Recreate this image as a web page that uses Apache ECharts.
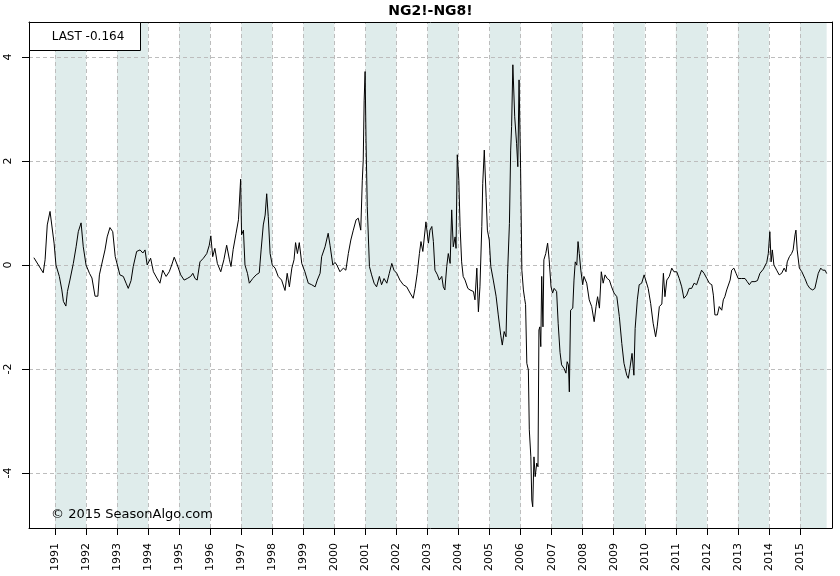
<!DOCTYPE html>
<html><head><meta charset="utf-8">
<script src="https://cdn.jsdelivr.net/npm/echarts@6/dist/echarts.min.js"></script>
<style>html,body{margin:0;padding:0;background:#fff}#c{width:840px;height:576px}</style>
</head><body><div id="c"></div>
<script>
const chartTitle = 'NG2!-NG8!';
const copyright = '\u00a9 2015 SeasonAlgo.com';
const yearTicks = [1991,1992,1993,1994,1995,1996,1997,1998,1999,2000,2001,2002,2003,2004,2005,2006,2007,2008,2009,2010,2011,2012,2013,2014,2015];
const valueTicks = [-4,-2,0,2,4];
const shadedYears = [1991,1993,1995,1997,1999,2001,2003,2005,2007,2009,2011,2013,2015];

const dates = [
1990.32,1990.62,1990.68,1990.75,1990.84,1990.89,1990.97,1991.03,1991.14,1991.22,
1991.27,1991.35,1991.40,1991.48,1991.59,1991.68,1991.75,1991.84,1991.91,1992.00,
1992.11,1992.19,1992.29,1992.38,1992.43,1992.50,1992.61,1992.68,1992.77,1992.86,
1992.94,1993.01,1993.09,1993.20,1993.29,1993.36,1993.45,1993.52,1993.63,1993.74,
1993.83,1993.90,1993.97,1994.08,1994.17,1994.28,1994.38,1994.47,1994.58,1994.68,
1994.76,1994.84,1994.94,1995.05,1995.16,1995.26,1995.37,1995.44,1995.51,1995.58,
1995.67,1995.78,1995.89,1995.97,1996.02,1996.08,1996.15,1996.23,1996.34,1996.44,
1996.53,1996.62,1996.67,1996.74,1996.83,1996.91,1996.98,1997.01,1997.07,1997.12,
1997.20,1997.26,1997.37,1997.48,1997.58,1997.64,1997.71,1997.77,1997.82,1997.87,
1997.93,1998.00,1998.09,1998.19,1998.30,1998.41,1998.48,1998.55,1998.63,1998.70,
1998.75,1998.81,1998.87,1998.95,1999.05,1999.16,1999.27,1999.38,1999.45,1999.54,
1999.59,1999.70,1999.80,1999.86,1999.95,2000.02,2000.08,2000.18,2000.29,2000.37,
2000.45,2000.53,2000.61,2000.70,2000.77,2000.85,2000.90,2000.93,2000.96,2000.99,
2001.02,2001.06,2001.13,2001.20,2001.28,2001.36,2001.45,2001.52,2001.60,2001.69,
2001.77,2001.85,2001.92,2002.01,2002.11,2002.22,2002.33,2002.44,2002.54,2002.60,
2002.67,2002.74,2002.79,2002.85,2002.95,2003.03,2003.08,2003.14,2003.19,2003.24,
2003.32,2003.38,2003.46,2003.51,2003.56,2003.62,2003.67,2003.73,2003.78,2003.83,
2003.89,2003.92,2003.96,2004.01,2004.05,2004.10,2004.15,2004.21,2004.30,2004.37,
2004.48,2004.53,2004.59,2004.64,2004.69,2004.75,2004.78,2004.83,2004.89,2004.93,
2004.99,2005.04,2005.12,2005.21,2005.28,2005.36,2005.41,2005.47,2005.53,2005.58,
2005.64,2005.68,2005.71,2005.75,2005.81,2005.87,2005.91,2005.95,2006.00,2006.04,
2006.09,2006.13,2006.16,2006.20,2006.25,2006.28,2006.33,2006.36,2006.39,2006.43,
2006.47,2006.52,2006.56,2006.59,2006.62,2006.65,2006.68,2006.72,2006.75,2006.81,
2006.87,2006.92,2006.98,2007.03,2007.08,2007.16,2007.21,2007.27,2007.32,2007.40,
2007.46,2007.50,2007.54,2007.57,2007.61,2007.68,2007.72,2007.76,2007.81,2007.85,
2007.89,2007.94,2008.00,2008.04,2008.13,2008.21,2008.29,2008.37,2008.43,2008.48,
2008.54,2008.60,2008.66,2008.72,2008.79,2008.86,2008.93,2009.01,2009.10,2009.18,
2009.26,2009.33,2009.42,2009.47,2009.52,2009.59,2009.65,2009.69,2009.76,2009.82,
2009.90,2009.98,2010.04,2010.11,2010.19,2010.27,2010.35,2010.40,2010.47,2010.55,
2010.60,2010.65,2010.71,2010.79,2010.87,2010.94,2011.03,2011.11,2011.19,2011.26,
2011.35,2011.43,2011.51,2011.59,2011.67,2011.76,2011.83,2011.91,2012.00,2012.08,
2012.16,2012.21,2012.26,2012.34,2012.40,2012.48,2012.53,2012.58,2012.64,2012.69,
2012.75,2012.80,2012.87,2012.94,2013.01,2013.12,2013.23,2013.30,2013.37,2013.44,
2013.55,2013.63,2013.71,2013.82,2013.93,2013.98,2014.03,2014.07,2014.11,2014.16,
2014.25,2014.33,2014.41,2014.49,2014.55,2014.59,2014.66,2014.73,2014.78,2014.84,
2014.87,2014.91,2014.98,2015.06,2015.11,2015.16,2015.24,2015.32,2015.41,2015.48,
2015.54,2015.59,2015.67,2015.73,2015.81,2015.86
];
const spread = [
0.14,-0.15,0.10,0.77,1.03,1.00,0.42,0.00,-0.22,-0.48,
-0.70,-0.79,-0.51,-0.29,0.03,0.35,0.64,0.81,0.35,0.00,
-0.16,-0.25,-0.60,-0.60,-0.19,0.00,0.29,0.54,0.72,0.64,
0.16,0.00,-0.19,-0.22,-0.35,-0.45,-0.30,-0.03,0.26,0.29,
0.23,0.29,0.00,0.13,-0.13,-0.25,-0.35,-0.10,-0.22,-0.13,
0.00,0.15,0.00,-0.19,-0.29,-0.26,-0.22,-0.16,-0.26,-0.29,
0.06,0.13,0.22,0.38,0.56,0.16,0.32,0.03,-0.13,0.10,
0.38,0.10,-0.03,0.30,0.60,0.87,1.65,0.58,0.67,0.00,
-0.16,-0.35,-0.26,-0.19,-0.15,0.29,0.77,0.96,1.37,0.93,
0.22,0.00,-0.06,-0.22,-0.29,-0.49,-0.16,-0.42,-0.06,0.10,
0.43,0.22,0.43,0.03,-0.13,-0.35,-0.38,-0.42,-0.29,-0.16,
0.16,0.35,0.61,0.38,0.00,0.05,0.00,-0.13,-0.06,-0.10,
0.22,0.48,0.67,0.87,0.90,0.67,1.63,2.02,3.17,3.72,
2.40,1.12,-0.03,-0.19,-0.35,-0.42,-0.22,-0.38,-0.26,-0.35,
-0.16,0.03,-0.10,-0.16,-0.29,-0.38,-0.42,-0.54,-0.64,-0.45,
-0.16,0.22,0.45,0.26,0.83,0.42,0.67,0.74,0.45,-0.10,
-0.19,-0.29,-0.22,-0.42,-0.48,-0.03,0.22,0.03,1.06,0.35,
0.54,0.32,2.12,1.63,0.74,0.06,-0.22,-0.29,-0.45,-0.48,
-0.51,-0.67,-0.06,-0.90,-0.42,0.74,1.57,2.21,1.30,0.67,
0.48,-0.03,-0.29,-0.60,-0.96,-1.35,-1.54,-1.28,-1.38,-0.16,
0.80,2.21,2.66,3.85,2.85,2.34,1.89,3.56,1.85,-0.10,
-0.48,-0.65,-0.76,-1.89,-2.02,-3.17,-3.69,-4.52,-4.65,-3.69,
-4.07,-3.81,-3.88,-1.25,-1.19,-1.57,-0.22,-1.19,0.10,0.22,
0.42,0.10,-0.42,-0.54,-0.45,-0.51,-1.12,-1.68,-1.92,-1.99,
-2.08,-1.86,-1.92,-2.44,-0.87,-0.83,-0.29,0.06,0.00,0.45,
0.22,-0.10,-0.38,-0.22,-0.35,-0.67,-0.80,-1.09,-0.80,-0.61,
-0.83,-0.13,-0.35,-0.19,-0.26,-0.29,-0.42,-0.54,-0.61,-0.99,
-1.51,-1.89,-2.12,-2.18,-1.99,-1.70,-2.12,-1.22,-0.67,-0.38,
-0.35,-0.19,-0.22,-0.45,-0.74,-1.12,-1.38,-1.19,-0.80,-0.75,
-0.16,-0.61,-0.29,-0.22,-0.06,-0.13,-0.13,-0.26,-0.42,-0.64,
-0.58,-0.45,-0.45,-0.35,-0.38,-0.22,-0.10,-0.16,-0.26,-0.35,
-0.38,-0.58,-0.96,-0.96,-0.80,-0.87,-0.67,-0.61,-0.48,-0.45,
-0.29,-0.10,-0.06,-0.16,-0.26,-0.26,-0.26,-0.32,-0.38,-0.32,
-0.32,-0.30,-0.16,-0.08,0.05,0.22,0.64,0.06,0.29,0.00,
-0.10,-0.19,-0.16,-0.06,-0.13,0.06,0.16,0.22,0.29,0.58,
0.67,0.29,-0.06,-0.13,-0.10,-0.26,-0.38,-0.45,-0.48,-0.45,
-0.29,-0.16,-0.06,-0.10,-0.10,-0.164
];

const lastDate = dates[dates.length - 1];
const lastValue = spread[spread.length - 1];
const lineData = dates.map((d, i) => [d, spread[i]]);

const gridColor = '#bdbdbd';
const bandColor = '#dfeceb';
const font = 'DejaVu Sans';

const chart = echarts.init(document.getElementById('c'), null, {renderer: 'canvas'});
chart.setOption({
  animation: false,
  backgroundColor: '#fff',
  grid: {left: 29, right: 8, top: 22, bottom: 48, containLabel: false, outerBoundsMode: 'none'},
  xAxis: [{
    type: 'value', min: 1990.162, max: 2016.032, position: 'bottom', z: 10,
    axisLine: {show: true, onZero: false, lineStyle: {color: '#000', width: 1}},
    axisTick: {show: true, length: 7, customValues: yearTicks, lineStyle: {color: '#000'}},
    axisLabel: {customValues: yearTicks, rotate: 90, margin: 15, fontSize: 11, color: '#000', fontFamily: font,
      formatter: v => String(Math.round(v))},
    splitLine: {show: false}
  }, {
    type: 'value', min: 1990.162, max: 2016.032, position: 'top', z: 10,
    axisLine: {show: true, onZero: false, lineStyle: {color: '#000', width: 1}},
    axisTick: {show: false}, axisLabel: {show: false}, splitLine: {show: false}
  }],
  yAxis: [{
    type: 'value', min: -5.058, max: 4.673, position: 'left', z: 10,
    axisLine: {show: true, onZero: false, lineStyle: {color: '#000', width: 1}},
    axisTick: {show: true, length: 7, customValues: valueTicks, lineStyle: {color: '#000'}},
    axisLabel: {customValues: valueTicks, rotate: 90, margin: 15, fontSize: 11, color: '#000', fontFamily: font,
      formatter: v => String(Math.round(v))},
    splitLine: {show: false}
  }, {
    type: 'value', min: -5.058, max: 4.673, position: 'right', z: 10,
    axisLine: {show: true, onZero: false, lineStyle: {color: '#000', width: 1}},
    axisTick: {show: false}, axisLabel: {show: false}, splitLine: {show: false}
  }],
  series: [{
    type: 'line', name: 'bands', data: [], silent: true, z: 0,
    markArea: {
      silent: true, z: 0,
      itemStyle: {color: bandColor},
      data: shadedYears.map(y => [{xAxis: y}, {xAxis: Math.min(y + 1, lastDate)}])
    }
  }, {
    type: 'line', name: 'grid', data: [], silent: true, z: 1,
    markLine: {
      silent: true, symbol: 'none', z: 1, animation: false,
      label: {show: false},
      lineStyle: {color: gridColor, type: [4, 3], width: 1},
      emphasis: {disabled: true},
      data: yearTicks.map(y => ({xAxis: y})).concat(valueTicks.map(v => ({yAxis: v})))
    }
  }, {
    type: 'line', name: 'NG2!-NG8!', data: lineData, z: 3,
    showSymbol: false, symbol: 'none', silent: true,
    lineStyle: {color: '#000', width: 1}
  }],
  graphic: [
    {type: 'text', z: 100, style: {text: chartTitle, x: 430.5, y: 11, align: 'center', verticalAlign: 'middle',
      fontSize: 14, fontWeight: 'bold', fontFamily: font, fill: '#000'}},
    {type: 'rect', z: 100, shape: {x: 29.5, y: 22.5, width: 111, height: 28},
      style: {fill: '#fff', stroke: '#000', lineWidth: 1}},
    {type: 'text', z: 101, style: {text: 'LAST ' + lastValue.toFixed(3), x: 88, y: 36.5, align: 'center', verticalAlign: 'middle',
      fontSize: 12, fontFamily: font, fill: '#000'}},
    {type: 'text', z: 100, style: {text: copyright, x: 51, y: 514.5, align: 'left', verticalAlign: 'middle',
      fontSize: 13, fontFamily: font, fill: '#000'}}
  ]
});
</script>
</body></html>
